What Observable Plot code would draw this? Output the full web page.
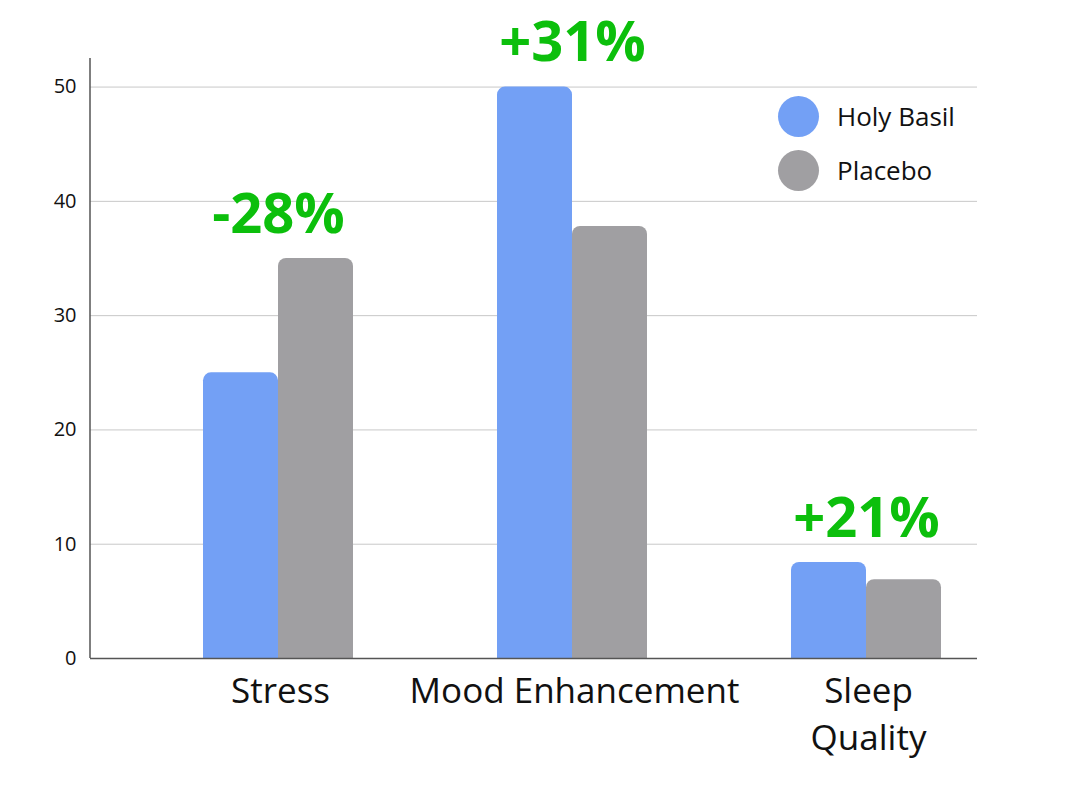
<!DOCTYPE html>
<html>
<head>
<meta charset="utf-8">
<script src="https://cdn.jsdelivr.net/npm/d3@7"></script>
<script src="https://cdn.jsdelivr.net/npm/@observablehq/plot@0.6"></script>
<style>
  html, body { margin: 0; padding: 0; background: #fff; }
  #wrap { position: relative; width: 1081px; height: 790px; font-family: "Open Sans", sans-serif; }
  .legend { position: absolute; left: 778px; top: 89px; }
  .legend .item { display: flex; align-items: center; height: 54px; }
  .legend .sw { width: 41px; height: 41px; border-radius: 50%; margin-right: 18px; }
  .legend .lab { font-size: 26px; color: #111; }
</style>
</head>
<body>
<div id="wrap"></div>
<script>
const categories = ["Stress", "Mood Enhancement", "Sleep Quality"];
const holyBasil = [25, 50, 8.4];
const placebo = [35, 37.8, 6.9];
const changeLabels = ["-28%", "+31%", "+21%"];
const series = ["Holy Basil", "Placebo"];
const colors = ["#73a0f5", "#a09fa2"];
const yTicks = [0, 10, 20, 30, 40, 50];

const hbData = categories.map((c, i) => ({category: c, value: holyBasil[i]}));
const plData = categories.map((c, i) => ({category: c, value: placebo[i]}));
const lblData = categories.map((c, i) => ({category: c, value: Math.max(holyBasil[i], placebo[i]), label: changeLabels[i]}));

const plot = Plot.plot({
  width: 1081,
  height: 790,
  marginLeft: 90,
  marginRight: 104,
  marginTop: 58,
  marginBottom: 132,
  style: {fontFamily: "Open Sans, sans-serif", color: "#111", background: "#fff"},
  x: {domain: categories, paddingInner: 0.49, paddingOuter: 0.25, align: 0.757, label: null},
  y: {domain: [0, 52.5], label: null},
  marks: [
    Plot.ruleY(yTicks.filter(d => d > 0), {stroke: "#c8c8c8", strokeWidth: 1}),
    Plot.barY(hbData, {x: "category", y: "value", fill: colors[0], insetRight: 75, ry1: 8, rx: 0}),
    Plot.barY(plData, {x: "category", y: "value", fill: colors[1], insetLeft: 75, ry1: 8, rx: 0}),
    Plot.ruleY([0], {stroke: "#555", strokeWidth: 1.5}),
    Plot.text(lblData, {x: "category", y: "value", text: "label", dy: -26, lineAnchor: "bottom",
      fill: "#0cbf0c", fontSize: 56, fontWeight: "bold"}),
    Plot.axisY({ticks: yTicks, tickSize: 0, tickPadding: 14, fontSize: 20, label: null}),
    Plot.axisX({tickSize: 0, tickPadding: 10, fontSize: 35, label: null, dx: 2, lineHeight: 1.37,
      tickFormat: d => d === "Sleep Quality" ? "Sleep\nQuality" : d})
  ]
});

// y axis line
const ys = plot.scale("y");
d3.select(plot).append("line")
  .attr("x1", 90).attr("x2", 90)
  .attr("y1", ys.range[1]).attr("y2", ys.range[0])
  .attr("stroke", "#555").attr("stroke-width", 1.5);

const wrap = document.getElementById("wrap");
wrap.appendChild(plot);

const legend = document.createElement("div");
legend.className = "legend";
series.forEach((s, i) => {
  const it = document.createElement("div");
  it.className = "item";
  it.innerHTML = `<div class="sw" style="background:${colors[i]}"></div><div class="lab">${s}</div>`;
  legend.appendChild(it);
});
wrap.appendChild(legend);
</script>
</body>
</html>
